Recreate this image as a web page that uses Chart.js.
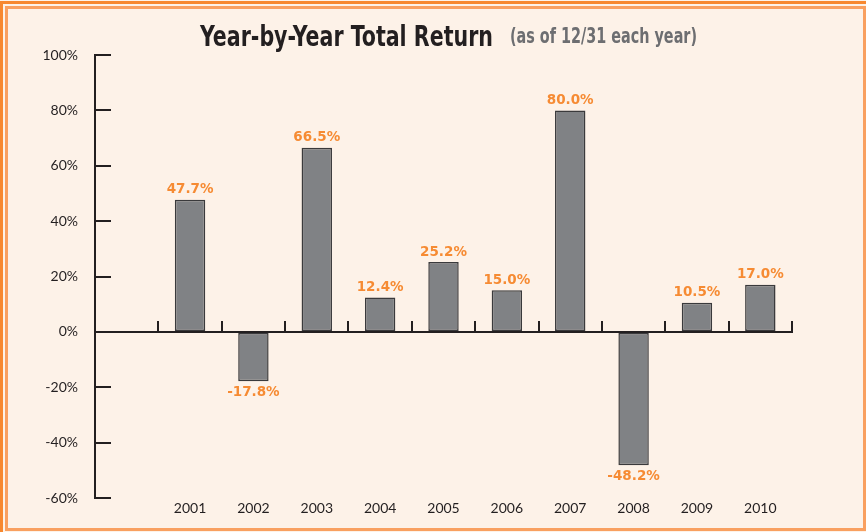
<!DOCTYPE html>
<html>
<head>
<meta charset="utf-8">
<script src="https://cdn.jsdelivr.net/npm/chart.js@4"></script>
<style>
  html, body { margin: 0; padding: 0; background: #fdf2e8; }
  #wrap { position: relative; width: 866px; height: 532px; overflow: hidden; }
  #outer { position: absolute; left: 0; top: 1px; width: 880px; height: 540px; border: 3px solid #f7882f; box-sizing: border-box; }
  #inner { position: absolute; left: 5px; top: 6px; width: 861px; height: 525px; border: 3px solid #f9a060; box-sizing: border-box; }
  canvas { position: absolute; left: 0; top: 0; }
</style>
</head>
<body>
<div id="wrap">
  <div id="outer"></div>
  <div id="inner"></div>
  <canvas id="chart" width="866" height="532"></canvas>
</div>
<script>
const years   = ['2001', '2002', '2003', '2004', '2005', '2006', '2007', '2008', '2009', '2010'];
const returns = [47.7, -17.8, 66.5, 12.4, 25.2, 15.0, 80.0, -48.2, 10.5, 17.0];
const yTicks  = [-60, -40, -20, 0, 20, 40, 60, 80, 100];

const INK    = '#231f20';
const ORANGE = '#f68b33';
const NARROW = "'Liberation Sans Narrow', 'DejaVu Sans Condensed', sans-serif";

// the chart leaves one empty slot before 2001
const labels = [''].concat(years);
const values = [null].concat(returns);

// condensed title: squeeze the text to the width it has in the print layout
function squeezedText(ctx, text, font, width, x, y) {
  ctx.font = font;
  const w = ctx.measureText(text).width;
  const k = Math.min(1, width / w);
  ctx.save();
  ctx.translate(x, y);
  ctx.scale(k, 1);
  ctx.fillText(text, 0, 0);
  ctx.restore();
}

const titlePlugin = {
  id: 'titleRow',
  afterDraw(chart) {
    const ctx = chart.ctx;
    ctx.save();
    ctx.textBaseline = 'alphabetic';
    ctx.textAlign = 'left';
    ctx.fillStyle = INK;
    squeezedText(ctx, 'Year-by-Year Total Return', 'bold 29px ' + NARROW, 293, 200, 46);
    ctx.fillStyle = '#6d6e71';
    squeezedText(ctx, '(as of 12/31 each year)', 'bold 21px ' + NARROW, 187, 510, 43);
    ctx.restore();
  }
};

const valueLabels = {
  id: 'valueLabels',
  afterDatasetsDraw(chart) {
    const ctx = chart.ctx;
    const meta = chart.getDatasetMeta(0);
    ctx.save();
    ctx.font = 'bold 13.5px "DejaVu Sans", sans-serif';
    ctx.fillStyle = ORANGE;
    ctx.textAlign = 'center';
    ctx.textBaseline = 'middle';
    meta.data.forEach((bar, i) => {
      const v = values[i];
      if (v === null) return;
      const y = v >= 0 ? bar.y - 10 : bar.y + 11;
      ctx.fillText(v.toFixed(1) + '%', bar.x, y);
    });
    ctx.restore();
  }
};

new Chart(document.getElementById('chart'), {
  type: 'bar',
  data: {
    labels,
    datasets: [{
      data: values,
      backgroundColor: '#808285',
      borderColor: '#3a3a3c',
      borderWidth: 1.5,
      borderSkipped: false,
      categoryPercentage: 1,
      barPercentage: 0.48,
    }]
  },
  options: {
    responsive: false,
    animation: false,
    events: [],
    layout: { padding: { left: 35, right: 74, top: 55, bottom: 0 } },
    plugins: { legend: { display: false }, tooltip: { enabled: false }, title: { display: false } },
    scales: {
      x: {
        type: 'category',
        position: { y: 0 },
        offset: true,
        grid: { offset: true, drawOnChartArea: false, drawTicks: true, tickLength: -12, color: INK, lineWidth: 2 },
        border: { display: true, color: INK, width: 2 },
        ticks: { display: false },
      },
      xb: {
        type: 'category',
        position: 'bottom',
        labels,
        offset: true,
        grid: { display: false, drawTicks: false },
        border: { display: false },
        ticks: { color: INK, font: { family: 'Lato', size: 14 }, padding: 2, maxRotation: 0, autoSkip: false },
        afterFit: s => { s.height = 34; },
      },
      y: {
        min: -60,
        max: 100,
        afterBuildTicks: s => { s.ticks = yTicks.map(v => ({ value: v })); },
        grid: { drawOnChartArea: false, drawTicks: true, tickLength: -16, color: INK, lineWidth: 2 },
        border: { display: true, color: INK, width: 2 },
        ticks: { color: INK, font: { family: 'Lato', size: 14 }, padding: 33, callback: v => v + '%' },
        afterFit: s => { s.width = 60; s.paddingTop = 0; s.paddingBottom = 0; },
      }
    }
  },
  plugins: [titlePlugin, valueLabels]
});
</script>
</body>
</html>
